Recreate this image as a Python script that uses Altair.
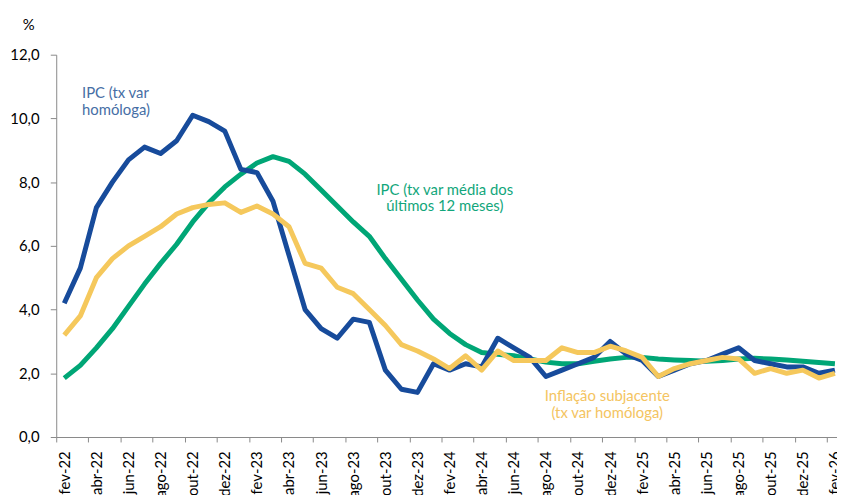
import json
import altair as alt
import pandas as pd

# ---------------- data ----------------
months = [
    "fev-22", "mar-22", "abr-22", "mai-22", "jun-22", "jul-22", "ago-22", "set-22", "out-22", "nov-22", "dez-22",
    "jan-23", "fev-23", "mar-23", "abr-23", "mai-23", "jun-23", "jul-23", "ago-23", "set-23", "out-23", "nov-23", "dez-23",
    "jan-24", "fev-24", "mar-24", "abr-24", "mai-24", "jun-24", "jul-24", "ago-24", "set-24", "out-24", "nov-24", "dez-24",
    "jan-25", "fev-25", "mar-25", "abr-25", "mai-25", "jun-25", "jul-25", "ago-25", "set-25", "out-25", "nov-25", "dez-25",
    "jan-26", "fev-26",
]

ipc_homologa = [
    4.2, 5.3, 7.2, 8.0, 8.7, 9.1, 8.9, 9.3, 10.1, 9.9, 9.6,
    8.4, 8.3, 7.4, 5.7, 4.0, 3.4, 3.1, 3.7, 3.6, 2.1, 1.5, 1.4,
    2.3, 2.1, 2.3, 2.2, 3.1, 2.8, 2.5, 1.9, 2.1, 2.3, 2.5, 3.0,
    2.6, 2.4, 1.9, 2.1, 2.3, 2.4, 2.6, 2.8, 2.4, 2.3, 2.2, 2.2,
    2.0, 2.1,
]

ipc_media12 = [
    1.85, 2.25, 2.8, 3.4, 4.1, 4.8, 5.45, 6.05, 6.75, 7.35, 7.85,
    8.25, 8.6, 8.8, 8.65, 8.25, 7.75, 7.25, 6.75, 6.3, 5.6, 4.95, 4.3,
    3.7, 3.25, 2.9, 2.65, 2.6, 2.55, 2.45, 2.35, 2.3, 2.3, 2.38, 2.45,
    2.5, 2.5, 2.45, 2.42, 2.4, 2.38, 2.4, 2.45, 2.47, 2.45, 2.42, 2.38,
    2.34, 2.3,
]

inflacao_subjacente = [
    3.2, 3.8, 5.0, 5.6, 6.0, 6.3, 6.6, 7.0, 7.2, 7.3, 7.35,
    7.05, 7.25, 7.0, 6.6, 5.45, 5.3, 4.7, 4.5, 4.0, 3.5, 2.9, 2.7,
    2.45, 2.15, 2.55, 2.1, 2.7, 2.4, 2.4, 2.4, 2.8, 2.65, 2.65, 2.85,
    2.7, 2.5, 1.9, 2.15, 2.3, 2.4, 2.5, 2.45, 2.0, 2.15, 2.0, 2.1,
    1.85, 2.0,
]

y_ticks = [0, 2, 4, 6, 8, 10, 12]

label_ipc = ["IPC (tx var", "homóloga)"]
label_media = ["IPC (tx var média dos", "últimos 12 meses)"]
label_sub = ["Inflação subjacente", "(tx var homóloga)"]

# ---------------- build ----------------
n = len(months)
rows = []
for i in range(n):
    rows.append({"i": i, "serie": "ipc", "valor": ipc_homologa[i]})
    rows.append({"i": i, "serie": "media", "valor": ipc_media12[i]})
    rows.append({"i": i, "serie": "sub", "valor": inflacao_subjacente[i]})
df = pd.DataFrame(rows)

W, H = 788.3, 386
FONT = "Lato"
AXIS_COLOR = "#898989"

x_scale = alt.Scale(domain=[-0.5, 48.13], nice=False, zero=False)
y_scale = alt.Scale(domain=[0, 12], nice=False, zero=True)

tick_vals = [k - 0.5 for k in range(0, n, 2)]
label_expr = json.dumps(months) + "[round(datum.value + 0.5)]"

x_axis = alt.Axis(
    values=tick_vals, labelExpr=label_expr, labelAngle=-90, labelOffset=8.1,
    tickSize=5, labelPadding=9, domainColor=AXIS_COLOR, tickColor=AXIS_COLOR,
    labelFont=FONT, labelFontSize=15, labelColor="#000000",
    labelOverlap=False, labelFlush=False, labelBound=False, grid=False, title=None,
)
y_axis = alt.Axis(
    values=y_ticks, labelExpr="replace(format(datum.value, '.1f'), '.', ',')",
    tickSize=6, labelPadding=11.4, domainColor=AXIS_COLOR, tickColor=AXIS_COLOR,
    labelFont=FONT, labelFontSize=15, labelColor="#000000", grid=False,
    title="%", titleAngle=0, titleX=-28.4, titleY=-30.1, titleAlign="center",
    titleBaseline="middle", titleFont=FONT, titleFontSize=15, titleFontWeight="normal",
    titleColor="#000000",
)


def line_layer(serie, color):
    return (
        alt.Chart(df)
        .transform_filter(alt.datum.serie == serie)
        .mark_line(color=color, strokeWidth=5, strokeJoin="round", clip=True)
        .encode(
            x=alt.X("i:Q", scale=x_scale, axis=x_axis),
            y=alt.Y("valor:Q", scale=y_scale, axis=y_axis),
        )
    )


def text_layer(lines, color, align, px, py):
    return (
        alt.Chart(alt.Data(values=[{"k": 0}]))
        .mark_text(align=align, baseline="alphabetic", font=FONT, fontSize=15,
                   lineHeight=17, color=color)
        .encode(x=alt.value(px), y=alt.value(py), text=alt.value(lines))
    )


chart = alt.layer(
    line_layer("media", "#00A676"),
    line_layer("ipc", "#174B9B"),
    line_layer("sub", "#F5C85C"),
    text_layer(label_ipc, "#466EA5", "left", 26.0, 43.9),
    text_layer(label_media, "#12A67B", "center", 392.3, 141.2),
    text_layer(label_sub, "#F4C461", "center", 556.3, 349.9),
).properties(
    width=W, height=H,
    autosize=alt.AutoSizeParams(type="none"),
    padding={"left": 48.7, "top": 44.8, "right": 0, "bottom": 56.2},
    background="white",
).configure_view(stroke=None)

chart.save("out.html", embed_options={"renderer": "svg", "actions": False})
